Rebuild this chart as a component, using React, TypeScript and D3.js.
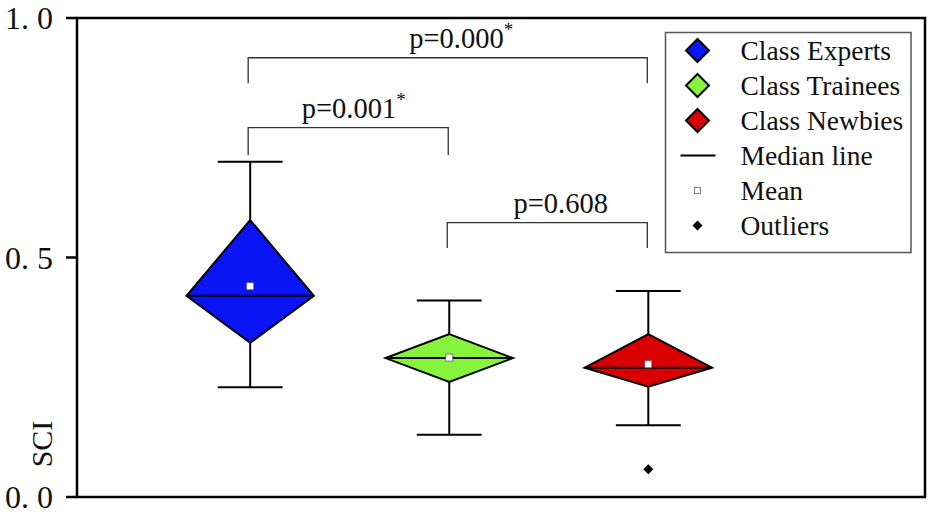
import React from 'react';
import * as d3 from 'd3';

// data
const categories = ['Class Experts', 'Class Trainees', 'Class Newbies'];
const colors = ['#0a14f5', '#86f43c', '#d80000'];
const whiskerLow = [0.229, 0.13, 0.15];
const q1 = [0.322, 0.24, 0.23];
const median = [0.42, 0.29, 0.27];
const q3 = [0.578, 0.34, 0.34];
const whiskerHigh = [0.7, 0.41, 0.43];
const means = [0.44, 0.291, 0.277];
const outlierGroup = [2];
const outlierValue = [0.058];

const yTicks = [0, 0.5, 1.0];
const yTickLabels = ['0. 0', '0. 5', '1. 0'];

const pairFrom = [0, 0, 1];
const pairTo = [2, 1, 2];
const pairLabel = ['p=0.000', 'p=0.001', 'p=0.608'];
const pairStar = [true, true, false];
const pairLabelAt = [2.06, 1.52, 2.56];
const pairTop = [0.917, 0.771, 0.573];
const pairBottom = [0.864, 0.714, 0.52];

const legendLabels = ['Class Experts', 'Class Trainees', 'Class Newbies', 'Median line', 'Mean', 'Outliers'];

const W = 931;
const H = 516;
const left = 77;
const right = 925;
const top = 18;
const bottom = 497;
const font = '"Liberation Serif", "Times New Roman", serif';

const App = () => {
  const x = d3.scaleLinear().domain([0.13, 4.39]).range([left, right]);
  const y = d3.scaleLinear().domain([0, 1]).range([bottom, top]);
  const halfBox = x(1.32) - x(1);
  const halfCap = x(1.163) - x(1);

  const diamond = (cx: number, lo: number, mid: number, hi: number, hw: number) =>
    `M${cx},${y(hi)} L${cx + hw},${y(mid)} L${cx},${y(lo)} L${cx - hw},${y(mid)} Z`;

  return (
    <svg width={W} height={H} style={{ position: 'absolute', left: 0, top: 0, background: '#fff' }}>
      <rect x={0} y={0} width={W} height={H} fill="#fff" />

      {/* brackets */}
      {pairLabel.map((lab, i) => {
        const xa = x(pairFrom[i] + 1) - 2;
        const xb = x(pairTo[i] + 1) - 1;
        const yt = y(pairTop[i]);
        const yb = y(pairBottom[i]);
        return (
          <g key={lab}>
            <path
              d={`M${xa},${yb} V${yt} H${xb} V${yb}`}
              fill="none"
              stroke="#333"
              strokeWidth={1.3}
            />
            <text
              x={x(pairLabelAt[i])}
              y={yt - 10}
              textAnchor="middle"
              fontFamily={font}
              fontSize={28.5}
              fill="#111"
            >
              {lab}
              {pairStar[i] && (
                <tspan fontSize={19} dy={-12}>
                  *
                </tspan>
              )}
            </text>
          </g>
        );
      })}

      {/* boxes */}
      {categories.map((c, i) => {
        const cx = x(i + 1);
        return (
          <g key={c}>
            <line x1={cx} x2={cx} y1={y(whiskerHigh[i])} y2={y(q3[i])} stroke="#000" strokeWidth={2} />
            <line x1={cx} x2={cx} y1={y(q1[i])} y2={y(whiskerLow[i])} stroke="#000" strokeWidth={2} />
            <line x1={cx - halfCap} x2={cx + halfCap} y1={y(whiskerHigh[i])} y2={y(whiskerHigh[i])} stroke="#000" strokeWidth={2} />
            <line x1={cx - halfCap} x2={cx + halfCap} y1={y(whiskerLow[i])} y2={y(whiskerLow[i])} stroke="#000" strokeWidth={2} />
            <path
              d={diamond(cx, q1[i], median[i], q3[i], halfBox)}
              fill={colors[i]}
              stroke="#000"
              strokeWidth={2}
              strokeLinejoin="miter"
            />
            <line x1={cx - halfBox} x2={cx + halfBox} y1={y(median[i])} y2={y(median[i])} stroke="#000" strokeWidth={2} />
            <rect x={cx - 3.5} y={y(means[i]) - 3.5} width={7} height={7} fill="#fff" stroke="#666" strokeWidth={0.8} />
          </g>
        );
      })}

      {/* outliers */}
      {outlierValue.map((v, i) => {
        const cx = x(outlierGroup[i] + 1);
        const cy = y(v);
        return <path key={i} d={`M${cx},${cy - 5} L${cx + 5},${cy} L${cx},${cy + 5} L${cx - 5},${cy} Z`} fill="#000" />;
      })}

      {/* frame */}
      <rect x={left} y={top} width={right - left} height={bottom - top} fill="none" stroke="#000" strokeWidth={2.5} />
      {yTicks.map((t, i) => (
        <g key={t}>
          <line x1={left - 11} x2={left} y1={y(t)} y2={y(t)} stroke="#000" strokeWidth={2.5} />
          <text
            x={53}
            y={y(t)}
            dy="0.35em"
            textAnchor="end"
            fontFamily={font}
            fontSize={32}
            fill="#111"
          >
            {yTickLabels[i]}
          </text>
        </g>
      ))}
      <text
        transform={`translate(52,444) rotate(-90)`}
        textAnchor="middle"
        fontFamily={font}
        fontSize={30}
        fill="#111"
      >
        SCI
      </text>

      {/* legend */}
      <rect x={665.5} y={32.5} width={245.5} height={220} fill="#fff" stroke="#555" strokeWidth={1.5} />
      {legendLabels.map((lab, i) => {
        const base = 59.5 + i * 35;
        const mx = 697.5;
        const my = base - 9;
        let marker;
        if (i < 3) {
          marker = (
            <path
              d={`M${mx},${my - 11.5} L${mx + 11.5},${my} L${mx},${my + 11.5} L${mx - 11.5},${my} Z`}
              fill={colors[i]}
              stroke="#000"
              strokeWidth={2}
            />
          );
        } else if (i === 3) {
          marker = <line x1={mx - 17} x2={mx + 18} y1={my} y2={my} stroke="#000" strokeWidth={2} />;
        } else if (i === 4) {
          marker = <rect x={mx - 3} y={my - 3} width={6} height={6} fill="#fff" stroke="#666" strokeWidth={0.8} />;
        } else {
          marker = <path d={`M${mx},${my - 5} L${mx + 5},${my} L${mx},${my + 5} L${mx - 5},${my} Z`} fill="#000" />;
        }
        return (
          <g key={lab}>
            {marker}
            <text x={740.5} y={base} fontFamily={font} fontSize={27.5} fill="#111">
              {lab}
            </text>
          </g>
        );
      })}
    </svg>
  );
};

export default App;
